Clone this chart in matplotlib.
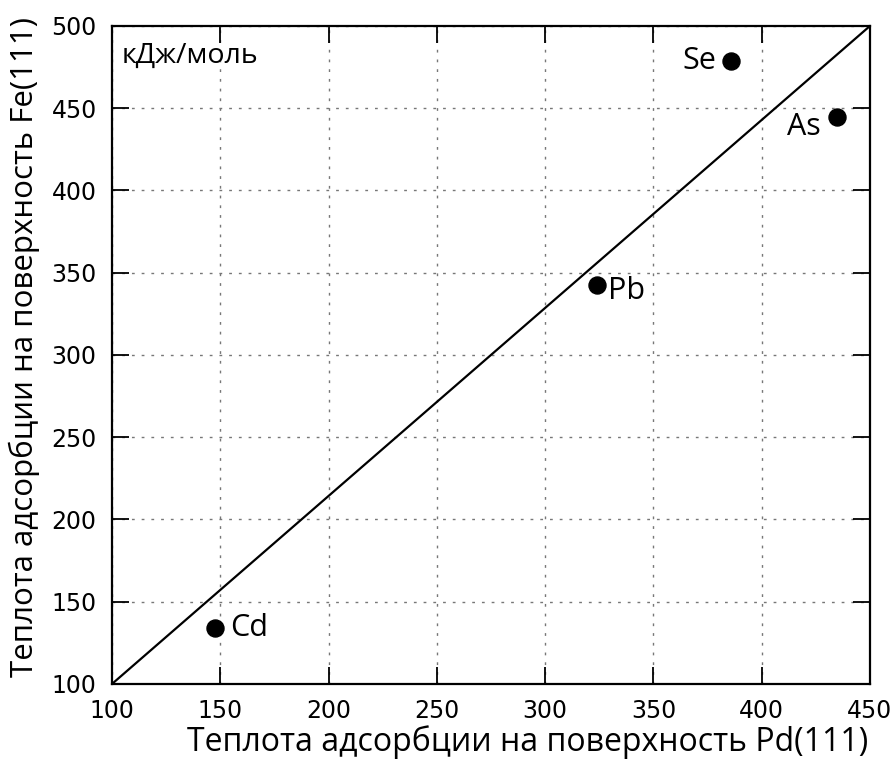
import matplotlib
matplotlib.use("Agg")
import matplotlib.pyplot as plt

elements = ["Cd", "Pb", "Se", "As"]
heat_pd = [147.6, 324, 386, 435]
heat_fe = [134, 342.5, 478.5, 444.5]
diag_x = [100, 450]
diag_y = [100, 500]
xticks = [100, 150, 200, 250, 300, 350, 400, 450]
yticks = [100, 150, 200, 250, 300, 350, 400, 450, 500]

label_offsets = {"Cd": (11, 0, "left"), "Pb": (8, -4, "left"),
                 "Se": (-11, 0, "right"), "As": (-12, -7, "right")}

fig = plt.figure(figsize=(8.95, 7.62), dpi=100)
ax = fig.add_axes([0.1251, 0.1024, 0.8469, 0.8635])

ax.plot(diag_x, diag_y, color="black", lw=1.6)
ax.scatter(heat_pd, heat_fe, s=150, color="black", zorder=3)
for name, x, y in zip(elements, heat_pd, heat_fe):
    dx, dy, ha = label_offsets[name]
    ax.annotate(name, (x, y), xytext=(dx, dy), textcoords="offset points",
                ha=ha, va="center", fontsize=22, family="Open Sans")

ax.text(0.013, 0.955, "кДж/моль", transform=ax.transAxes, fontsize=20.5,
        family="Open Sans", ha="left", va="center")

ax.set_xlim(100, 450)
ax.set_ylim(100, 500)
ax.set_xticks(xticks)
ax.set_yticks(yticks)
ax.tick_params(direction="in", length=12, width=1.3, top=True, right=True,
               labelsize=17, pad=11)
for lab in ax.get_xticklabels() + ax.get_yticklabels():
    lab.set_family("DejaVu Sans")
ax.grid(True, color="#777777", linestyle=(0, (2, 5)), lw=1)
for s in ax.spines.values():
    s.set_linewidth(1.6)

ax.set_xlabel("Теплота адсорбции на поверхность Pd(111)", fontsize=23,
              family="Open Sans")
ax.set_ylabel("Теплота адсорбции на поверхность Fe(111)", fontsize=22.5,
              family="Open Sans")
ax.xaxis.set_label_coords(0.549, -0.088)
ax.xaxis.label.set_va("center")
ax.yaxis.set_label_coords(-0.115, 0.512)
ax.yaxis.label.set_va("center")

fig.savefig("out.png", dpi=100)
